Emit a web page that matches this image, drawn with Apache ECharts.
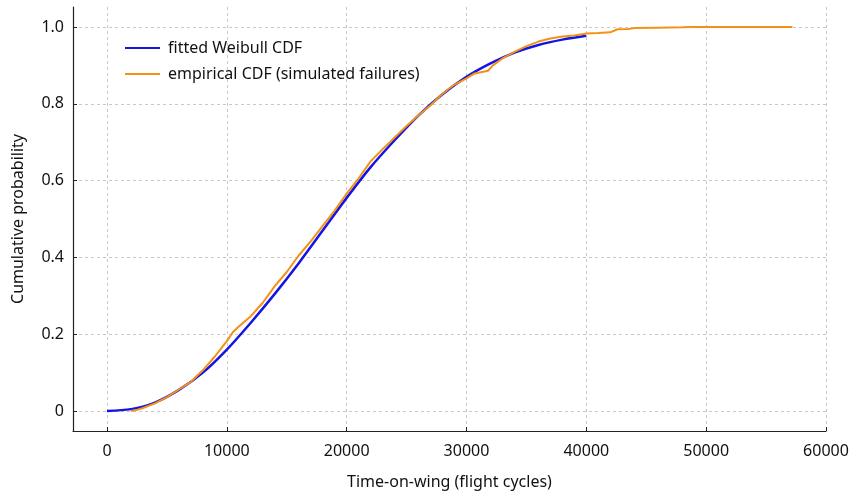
<!DOCTYPE html>
<html>
<head>
<meta charset="utf-8">
<script src="https://cdn.jsdelivr.net/npm/echarts@6/dist/echarts.min.js"></script>
<style>
  html, body { margin: 0; padding: 0; background: #fff; }
  #chart { width: 853px; height: 496px; }
</style>
</head>
<body>
<div id="chart"></div>
<script>
// values
var fitCycles = [0, 2000, 4000, 6000, 8000, 10000, 12000, 14000, 16000, 18000, 20000,
    22000, 24000, 26000, 28000, 30000, 32000, 34000, 36000, 38000, 40000];
var fitProb = [0, 0.005, 0.022, 0.055, 0.100, 0.160, 0.230, 0.305, 0.385, 0.470, 0.555,
    0.635, 0.705, 0.770, 0.825, 0.870, 0.905, 0.933, 0.953, 0.967, 0.977];

var empCycles = [2000, 2500, 3000, 4000, 5000, 6000, 7000, 8000, 9000, 10000, 10500, 11000,
    12000, 13000, 14000, 15000, 16000, 17000, 18000, 19000, 20000, 21000, 22000, 23000,
    24000, 25000, 26000, 27000, 28000, 29000, 30000, 30600, 31200, 31800, 32200, 33000,
    34000, 35000, 36000, 37000, 38000, 39000, 40000, 41000, 42000, 42600, 43500, 44000,
    46000, 48000, 48800, 57200];
var empProb = [0, 0.003, 0.008, 0.020, 0.036, 0.056, 0.076, 0.106, 0.142, 0.182, 0.205, 0.220,
    0.247, 0.282, 0.325, 0.362, 0.405, 0.442, 0.482, 0.522, 0.566, 0.606, 0.650, 0.682,
    0.712, 0.742, 0.770, 0.796, 0.826, 0.850, 0.866, 0.878, 0.882, 0.886, 0.900, 0.918,
    0.935, 0.950, 0.962, 0.970, 0.975, 0.978, 0.983, 0.984, 0.986, 0.994, 0.995, 0.997,
    0.998, 0.999, 1.0, 1.0];

var xTicks = [0, 10000, 20000, 30000, 40000, 50000, 60000];
var yTicks = [0, 0.2, 0.4, 0.6, 0.8, 1.0];

function pairs(xs, ys) {
    return xs.map(function (x, i) { return [x, ys[i]]; });
}

var font = 'Noto Sans';
var chart = echarts.init(document.getElementById('chart'));
var option = {
    animation: false,
    backgroundColor: '#fff',
    textStyle: { fontFamily: font },
    grid: { left: 73, right: 27, top: 7, bottom: 65, outerBoundsMode: 'none', containLabel: false },
    legend: {
        orient: 'vertical',
        left: 119,
        top: 35,
        itemWidth: 35,
        itemHeight: 14,
        itemGap: 10,
        itemStyle: { opacity: 0 },
        textStyle: { fontSize: 16, color: '#111', fontFamily: font, padding: [0, 0, 0, 3] },
        data: ['fitted Weibull CDF', 'empirical CDF (simulated failures)']
    },
    xAxis: {
        type: 'value',
        min: -2837,
        max: 60000,
        name: 'Time-on-wing (flight cycles)',
        nameLocation: 'middle',
        nameGap: 43,
        nameTextStyle: { fontSize: 16, color: '#111' },
        axisLine: { show: true, onZero: false, lineStyle: { color: '#222', width: 1.2 } },
        axisTick: { show: true, inside: true, length: 4, customValues: xTicks, lineStyle: { color: '#222' } },
        axisLabel: {
            customValues: xTicks, fontSize: 16, color: '#111', margin: 12,
            formatter: function (v) { return String(v); }
        },
        splitLine: { show: true, lineStyle: { color: '#c8c8c8', type: [3, 3], width: 1 } }
    },
    yAxis: {
        type: 'value',
        min: -0.052,
        max: 1.052,
        name: 'Cumulative probability',
        nameLocation: 'middle',
        nameGap: 47,
        nameTextStyle: { fontSize: 16, color: '#111' },
        axisLine: { show: true, onZero: false, lineStyle: { color: '#222', width: 1.2 } },
        axisTick: { show: true, inside: true, length: 4, customValues: yTicks, lineStyle: { color: '#222' } },
        axisLabel: {
            customValues: yTicks, fontSize: 16, color: '#111', margin: 9,
            formatter: function (v) { return v === 0 ? '0' : v.toFixed(1); }
        },
        splitLine: { show: true, lineStyle: { color: '#c8c8c8', type: [3, 3], width: 1 } }
    },
    series: [
        {
            name: 'fitted Weibull CDF',
            type: 'line',
            smooth: 0.3,
            symbol: 'none',
            color: '#1414e6',
            lineStyle: { width: 2.5, color: '#1414e6' },
            z: 2,
            data: pairs(fitCycles, fitProb)
        },
        {
            name: 'empirical CDF (simulated failures)',
            type: 'line',
            symbol: 'none',
            color: '#f39214',
            lineStyle: { width: 2, color: '#f39214' },
            z: 3,
            data: pairs(empCycles, empProb)
        }
    ]
};
chart.setOption(option);
</script>
</body>
</html>
